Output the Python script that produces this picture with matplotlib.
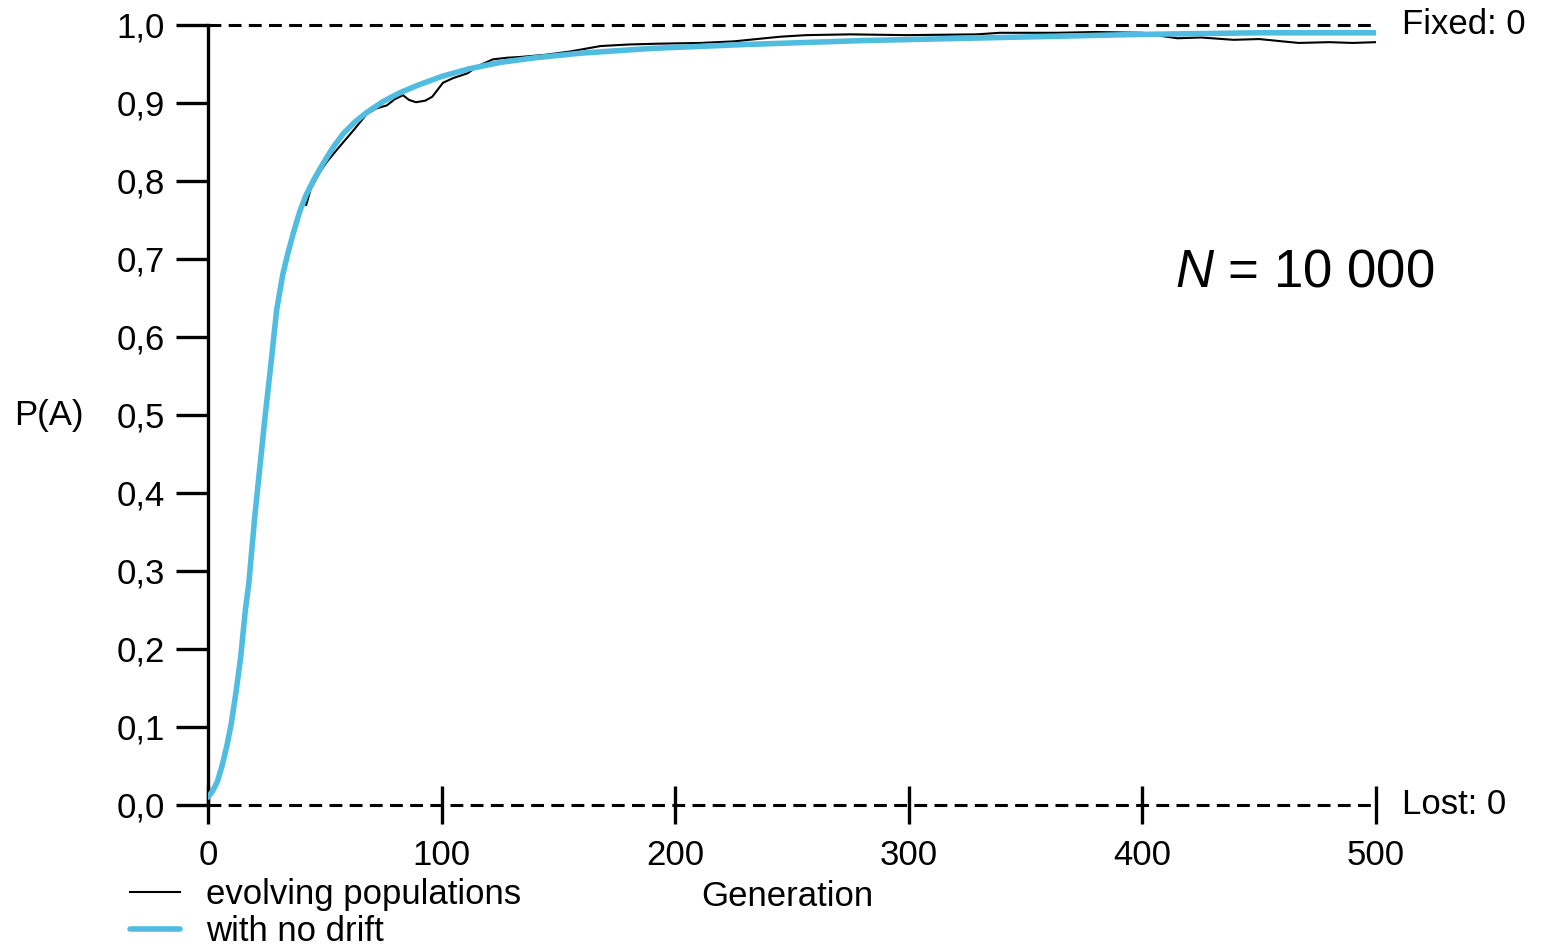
import matplotlib
matplotlib.use("Agg")
import matplotlib.pyplot as plt

# generations / allele frequency
gen_nodrift = [0, 2, 4, 6, 8, 10, 12, 14, 16, 17.5, 20, 21.5, 24.4, 27, 29.4, 32, 34, 36.5,
               39.4, 42, 45, 48, 51, 54, 58, 63, 68, 75, 82, 90, 100, 112, 125, 140, 160,
               190, 230, 280, 340, 400, 450, 500]
p_nodrift = [0.01, 0.018, 0.03, 0.05, 0.075, 0.105, 0.145, 0.19, 0.25, 0.285, 0.369, 0.413,
             0.497, 0.567, 0.635, 0.68, 0.705, 0.733, 0.762, 0.782, 0.80, 0.816, 0.831, 0.845,
             0.861, 0.876, 0.888, 0.902, 0.913, 0.923, 0.934, 0.944, 0.952, 0.958, 0.964,
             0.970, 0.975, 0.980, 0.984, 0.988, 0.99, 0.99]

gen_evolving = [0, 2, 4, 6, 8, 10, 12, 14, 16, 17.5, 20, 21.5, 24.4, 27, 29.4, 32, 34, 36.5,
                39.4, 41.5, 42, 44, 48, 51, 56, 62, 68, 72, 76.6, 80, 83.5, 86, 89, 93, 96,
                100.6, 105, 111, 116, 122, 128, 133.6, 145, 155, 168, 180, 192, 211, 225,
                235, 245, 256, 275, 299, 329, 339, 363, 380, 400, 408, 415, 425, 439, 450,
                460, 467, 480, 490, 500]
p_evolving = [0.01, 0.018, 0.03, 0.05, 0.075, 0.105, 0.145, 0.19, 0.25, 0.285, 0.369, 0.413,
              0.497, 0.567, 0.635, 0.68, 0.705, 0.733, 0.762, 0.775, 0.769, 0.79, 0.812,
              0.825, 0.843, 0.864, 0.886, 0.893, 0.897, 0.905, 0.91, 0.904, 0.901, 0.903,
              0.908, 0.926, 0.932, 0.938, 0.948, 0.956, 0.958, 0.959, 0.962, 0.966, 0.973,
              0.975, 0.976, 0.977, 0.979, 0.982, 0.985, 0.987, 0.988, 0.987, 0.988, 0.99,
              0.99, 0.991, 0.99, 0.986, 0.983, 0.984, 0.981, 0.982, 0.979, 0.977, 0.978,
              0.977, 0.978]

x_ticks = [0, 100, 200, 300, 400, 500]
y_ticks = [i / 10 for i in range(11)]
y_labels = [f"{v:.1f}".replace(".", ",") for v in y_ticks]

plt.rcParams["font.family"] = ["Liberation Sans", "DejaVu Sans"]
plt.rcParams["mathtext.fontset"] = "custom"
plt.rcParams["mathtext.it"] = "Liberation Sans:italic"
plt.rcParams["mathtext.rm"] = "Liberation Sans"

fs = 25

fig = plt.figure(figsize=(15.42, 9.49), dpi=100)
ax = fig.add_axes([208 / 1542, 1 - 805 / 949, (1376 - 208) / 1542, (805 - 25) / 949])

blue = "#50bde0"
l1, = ax.plot(gen_evolving, p_evolving, color="black", lw=1.5, zorder=3)
l2, = ax.plot(gen_nodrift, p_nodrift, color=blue, lw=4.0, zorder=4, solid_capstyle="round")

# dashed bounds at fixed/lost
ax.plot([0, 500], [1, 1], color="black", lw=2.2, ls=(0, (4.2, 2.4)), zorder=2, clip_on=False)
ax.plot([0, 500], [0, 0], color="black", lw=2.2, ls=(0, (4.2, 2.4)), zorder=2, clip_on=False)

ax.set_xlim(0, 500)
ax.set_ylim(0, 1)
for s in ["top", "right", "bottom"]:
    ax.spines[s].set_visible(False)
ax.spines["left"].set_linewidth(2.4)

ax.set_xticks(x_ticks)
ax.set_xticklabels([str(v) for v in x_ticks])
ax.set_yticks(y_ticks)
ax.set_yticklabels(y_labels)
ax.tick_params(axis="x", direction="inout", length=27, width=2.4, pad=11, labelsize=fs)
ax.tick_params(axis="y", direction="out", length=23, width=2.4, pad=8, labelsize=fs)

ax.text(1.022, 1.0, "Fixed: 0", transform=ax.transAxes, fontsize=fs, va="center", ha="left")
ax.text(1.022, 0.0, "Lost: 0", transform=ax.transAxes, fontsize=fs, va="center", ha="left")
ax.text(0.828, 0.683, "$N$ = 10 000", transform=ax.transAxes, fontsize=38,
        va="center", ha="left")

fig.text(14 / 1542, 1 - 415 / 949, "P(A)", fontsize=fs, va="center", ha="left")
fig.text(787 / 1542, 1 - 896 / 949, "Generation", fontsize=fs, va="center", ha="center")

fig.legend([l1, l2], ["evolving populations", "with no drift"], loc="upper left",
           bbox_to_anchor=(130 / 1542, 1 - 878 / 949), frameon=False, fontsize=fs,
           handlelength=1.45, handletextpad=0.75, labelspacing=0.12, borderaxespad=0,
           borderpad=0)

fig.savefig("out.png", dpi=100)
